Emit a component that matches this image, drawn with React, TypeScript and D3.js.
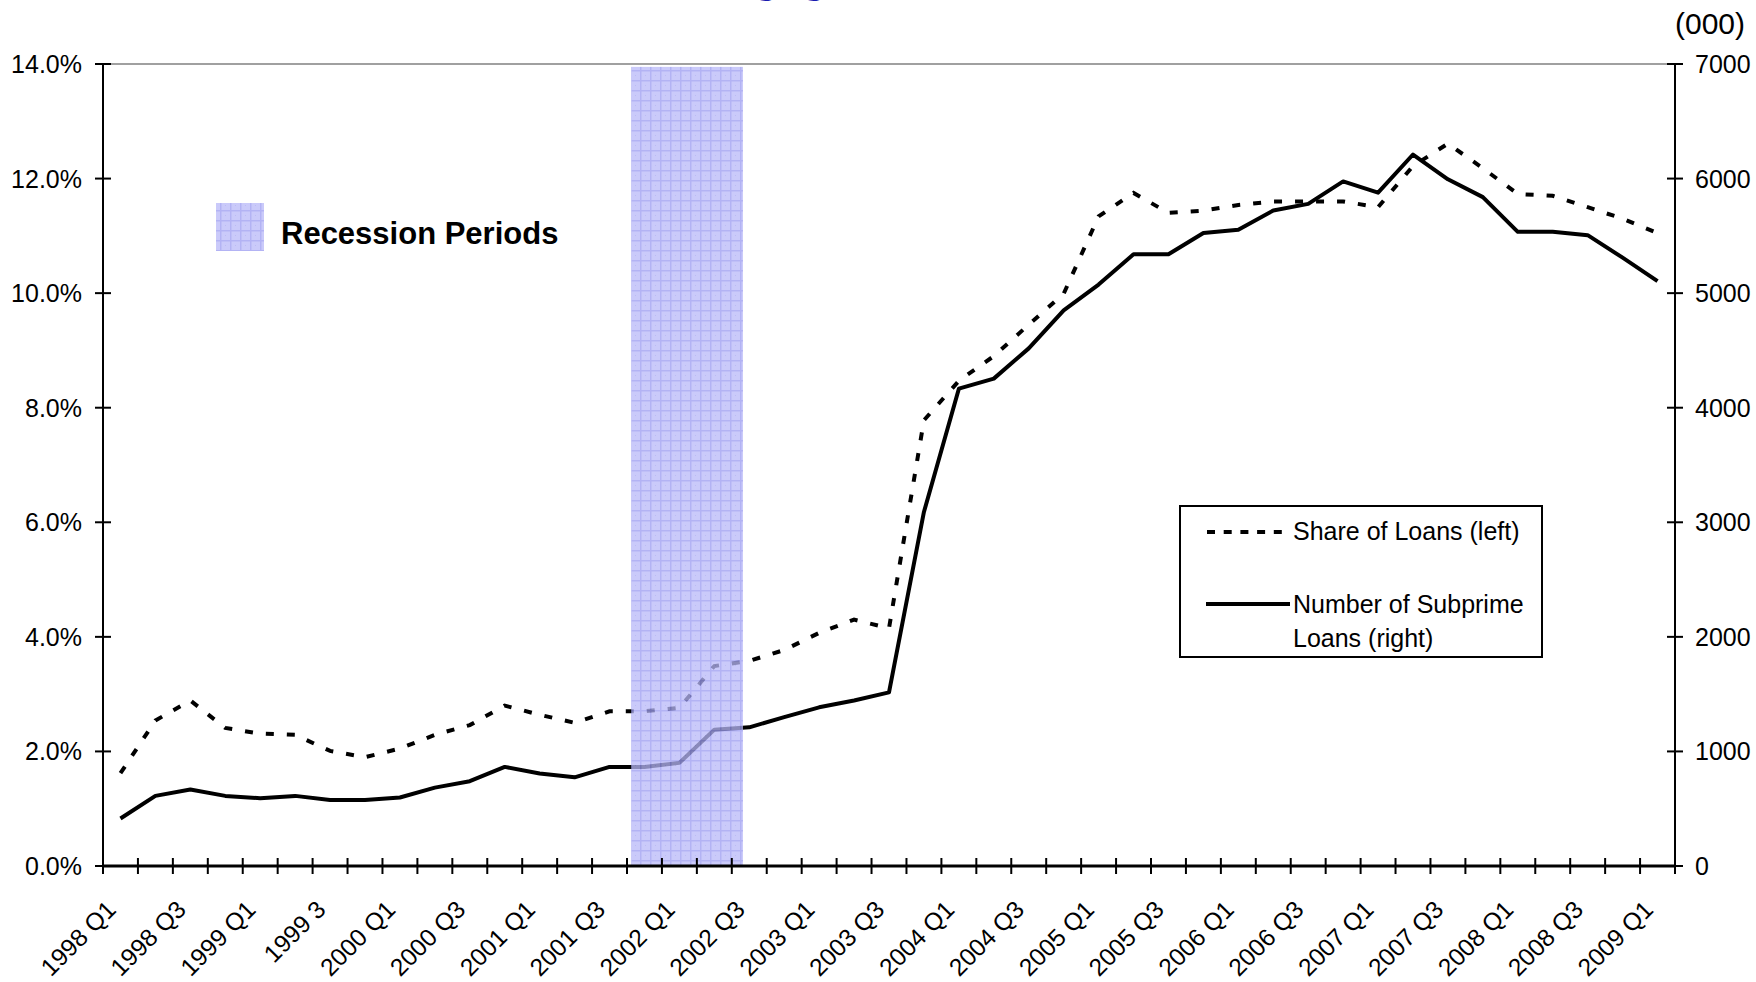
import React from 'react';
import * as d3 from 'd3';

const categories = [
  '1998 Q1', '1998 Q2', '1998 Q3', '1998 Q4',
  '1999 Q1', '1999 Q2', '1999 Q3', '1999 Q4',
  '2000 Q1', '2000 Q2', '2000 Q3', '2000 Q4',
  '2001 Q1', '2001 Q2', '2001 Q3', '2001 Q4',
  '2002 Q1', '2002 Q2', '2002 Q3', '2002 Q4',
  '2003 Q1', '2003 Q2', '2003 Q3', '2003 Q4',
  '2004 Q1', '2004 Q2', '2004 Q3', '2004 Q4',
  '2005 Q1', '2005 Q2', '2005 Q3', '2005 Q4',
  '2006 Q1', '2006 Q2', '2006 Q3', '2006 Q4',
  '2007 Q1', '2007 Q2', '2007 Q3', '2007 Q4',
  '2008 Q1', '2008 Q2', '2008 Q3', '2008 Q4',
  '2009 Q1',
];

// tick labels shown under every other quarter (as in the original, incl. "1999 3")
const tickCategories = [
  '1998 Q1', '1998 Q3', '1999 Q1', '1999 Q3', '2000 Q1', '2000 Q3', '2001 Q1', '2001 Q3',
  '2002 Q1', '2002 Q3', '2003 Q1', '2003 Q3', '2004 Q1', '2004 Q3', '2005 Q1', '2005 Q3',
  '2006 Q1', '2006 Q3', '2007 Q1', '2007 Q3', '2008 Q1', '2008 Q3', '2009 Q1',
];
const tickLabels = [
  '1998 Q1', '1998 Q3', '1999 Q1', '1999 3', '2000 Q1', '2000 Q3', '2001 Q1', '2001 Q3',
  '2002 Q1', '2002 Q3', '2003 Q1', '2003 Q3', '2004 Q1', '2004 Q3', '2005 Q1', '2005 Q3',
  '2006 Q1', '2006 Q3', '2007 Q1', '2007 Q3', '2008 Q1', '2008 Q3', '2009 Q1',
];

// Share of loans, % (left axis)
const shareOfLoans = [
  1.62, 2.54, 2.89, 2.41, 2.31, 2.29, 2.01, 1.90, 2.05, 2.29, 2.46, 2.80, 2.64, 2.50, 2.70,
  2.70, 2.76, 3.49, 3.58, 3.77, 4.07, 4.30, 4.15, 7.78, 8.47, 8.90, 9.45, 9.99, 11.34, 11.75,
  11.40, 11.44, 11.54, 11.60, 11.60, 11.60, 11.50, 12.22, 12.61, 12.18, 11.73, 11.70, 11.50,
  11.30, 11.05,
];

// Number of subprime loans, thousands (right axis)
const subprimeLoans = [
  415, 612, 667, 612, 592, 612, 577, 577, 598, 684, 740, 865, 808, 774, 865,
  865, 900, 1190, 1210, 1300, 1385, 1445, 1515, 3090, 4166, 4254, 4518, 4850, 5075, 5339,
  5339, 5525, 5554, 5721, 5779, 5975, 5877, 6210, 5994, 5838, 5535, 5535, 5506,
  5310, 5105,
];

const leftTicks = [0, 2, 4, 6, 8, 10, 12, 14];
const rightTicks = [0, 1000, 2000, 3000, 4000, 5000, 6000, 7000];

// recession shading, in quarter-index units along the category axis
const recessionStart = 15.12;
const recessionEnd = 18.32;
const recessionTop = 13.95;

const FONT = '"Liberation Sans", Arial, Helvetica, sans-serif';

export default function App() {
  const W = 1756;
  const H = 982;
  const L = 103;
  const R = 1675;
  const T = 64;
  const B = 866;

  const x = d3.scaleBand<string>().domain(categories).range([L, R]).padding(0);
  const xi = d3.scaleLinear().domain([0, categories.length]).range([L, R]);
  const yL = d3.scaleLinear().domain([0, 14]).range([B, T]);
  const yR = d3.scaleLinear().domain([0, 7000]).range([B, T]);
  const cx = (c: string) => (x(c) as number) + x.bandwidth() / 2;

  const shareLine = d3
    .line<number>()
    .x((_, i) => cx(categories[i]))
    .y((d) => yL(d));
  const numberLine = d3
    .line<number>()
    .x((_, i) => cx(categories[i]))
    .y((d) => yR(d));

  const boundaries = d3.range(categories.length + 1);

  return (
    <svg
      width={W}
      height={H}
      viewBox={`0 0 ${W} ${H}`}
      style={{ position: 'absolute', left: 0, top: 0, display: 'block', background: '#fff' }}
      fontFamily={FONT}
    >
      <defs>
        <pattern id="recPat" width="10" height="10" patternUnits="userSpaceOnUse">
          <rect width="10" height="10" fill="#b8b8f8" />
          <rect x="0" y="0" width="10" height="1.5" fill="#9a9af0" />
          <rect x="0" y="0" width="1.5" height="10" fill="#9a9af0" />
          <rect x="5" y="5" width="1" height="1" fill="#a4a4f2" />
        </pattern>
      </defs>
      <rect x={0} y={0} width={W} height={H} fill="#fff" />

      {/* title (cut off at the top of the image, as in the reference) */}
      <text x={665} y={-7} fontSize={41} fontWeight="bold" fill="#1a1ab0">
        Mortgage Loans
      </text>

      {/* top border */}
      <line x1={L} x2={R} y1={T} y2={T} stroke="#a0a0a0" strokeWidth={2} />

      {/* series */}
      <path d={numberLine(subprimeLoans) || ''} fill="none" stroke="#000" strokeWidth={4} strokeLinejoin="round" />
      <path d={shareLine(shareOfLoans) || ''} fill="none" stroke="#000" strokeWidth={4} strokeDasharray="8 13" />

      {/* recession band */}
      <rect
        x={xi(recessionStart)}
        y={yL(recessionTop)}
        width={xi(recessionEnd) - xi(recessionStart)}
        height={B - yL(recessionTop)}
        fill="url(#recPat)"
        opacity={0.75}
      />

      {/* left axis */}
      <line x1={L} x2={L} y1={T} y2={B} stroke="#000" strokeWidth={2} />
      {leftTicks.map((t) => (
        <g key={'l' + t}>
          <line x1={L - 8} x2={L + 8} y1={yL(t)} y2={yL(t)} stroke="#000" strokeWidth={2} />
          <text x={L - 21} y={yL(t)} dy="0.36em" textAnchor="end" fontSize={25} fill="#000">
            {d3.format('.1f')(t) + '%'}
          </text>
        </g>
      ))}

      {/* right axis */}
      <line x1={R} x2={R} y1={T} y2={B} stroke="#000" strokeWidth={2} />
      {rightTicks.map((t) => (
        <g key={'r' + t}>
          <line x1={R - 8} x2={R + 8} y1={yR(t)} y2={yR(t)} stroke="#000" strokeWidth={2} />
          <text x={R + 20} y={yR(t)} dy="0.36em" textAnchor="start" fontSize={25} fill="#000">
            {String(t)}
          </text>
        </g>
      ))}
      <text x={R} y={34} fontSize={30} fill="#000">
        (000)
      </text>

      {/* bottom axis */}
      <line x1={L} x2={R} y1={B} y2={B} stroke="#000" strokeWidth={3} />
      {boundaries.map((b) => (
        <line key={'b' + b} x1={xi(b)} x2={xi(b)} y1={B - 8} y2={B + 8} stroke="#000" strokeWidth={2} />
      ))}
      {tickCategories.map((c, i) => (
        <text
          key={'x' + c}
          transform={`translate(${cx(c) - 3},${B + 45}) rotate(-45)`}
          textAnchor="end"
          fontSize={24.5}
          fill="#000"
        >
          {tickLabels[i]}
        </text>
      ))}

      {/* recession legend */}
      <rect x={216} y={203} width={48} height={48} fill="url(#recPat)" opacity={0.75} />
      <text x={281} y={244} fontSize={31} fontWeight="bold" fill="#000">
        Recession Periods
      </text>

      {/* series legend */}
      <rect x={1180} y={506} width={362} height={151} fill="#fff" stroke="#000" strokeWidth={2} />
      <line x1={1207} x2={1290} y1={532} y2={532} stroke="#000" strokeWidth={4} strokeDasharray="8 8.7" />
      <text x={1293} y={540} fontSize={25} fill="#000">
        Share of Loans (left)
      </text>
      <line x1={1206} x2={1290} y1={604} y2={604} stroke="#000" strokeWidth={4} />
      <text x={1293} y={613} fontSize={25} fill="#000">
        Number of Subprime
      </text>
      <text x={1293} y={647} fontSize={25} fill="#000">
        Loans (right)
      </text>
    </svg>
  );
}
